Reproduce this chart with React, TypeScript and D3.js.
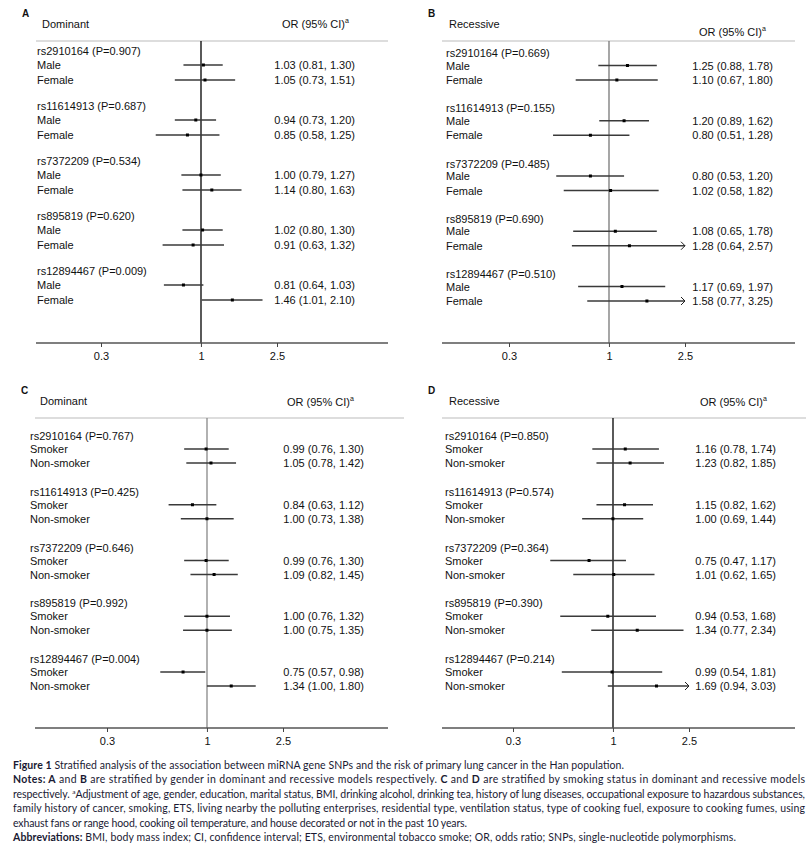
import { useRef, useEffect } from "react";
import * as d3 from "d3";

// SNPs shown in every panel
const snps = ["rs2910164", "rs11614913", "rs7372209", "rs895819", "rs12894467"];
const genderGroups = ["Male", "Female"];
const smokeGroups = ["Smoker", "Non-smoker"];
const tickValues = [0.3, 1, 2.5];

// P values for each SNP
const pDomGender = ["0.907", "0.687", "0.534", "0.620", "0.009"];
const pRecGender = ["0.669", "0.155", "0.485", "0.690", "0.510"];
const pDomSmoke = ["0.767", "0.425", "0.646", "0.992", "0.004"];
const pRecSmoke = ["0.850", "0.574", "0.364", "0.390", "0.214"];

// [OR, lower, upper] per SNP, for the two subgroups
const orDomGender = [
  [[1.03, 0.81, 1.3], [1.05, 0.73, 1.51]],
  [[0.94, 0.73, 1.2], [0.85, 0.58, 1.25]],
  [[1.0, 0.79, 1.27], [1.14, 0.8, 1.63]],
  [[1.02, 0.8, 1.3], [0.91, 0.63, 1.32]],
  [[0.81, 0.64, 1.03], [1.46, 1.01, 2.1]],
];
const orRecGender = [
  [[1.25, 0.88, 1.78], [1.1, 0.67, 1.8]],
  [[1.2, 0.89, 1.62], [0.8, 0.51, 1.28]],
  [[0.8, 0.53, 1.2], [1.02, 0.58, 1.82]],
  [[1.08, 0.65, 1.78], [1.28, 0.64, 2.57]],
  [[1.17, 0.69, 1.97], [1.58, 0.77, 3.25]],
];
const orDomSmoke = [
  [[0.99, 0.76, 1.3], [1.05, 0.78, 1.42]],
  [[0.84, 0.63, 1.12], [1.0, 0.73, 1.38]],
  [[0.99, 0.76, 1.3], [1.09, 0.82, 1.45]],
  [[1.0, 0.76, 1.32], [1.0, 0.75, 1.35]],
  [[0.75, 0.57, 0.98], [1.34, 1.0, 1.8]],
];
const orRecSmoke = [
  [[1.16, 0.78, 1.74], [1.23, 0.82, 1.85]],
  [[1.15, 0.82, 1.62], [1.0, 0.69, 1.44]],
  [[0.75, 0.47, 1.17], [1.01, 0.62, 1.65]],
  [[0.94, 0.53, 1.68], [1.34, 0.77, 2.34]],
  [[0.99, 0.54, 1.81], [1.69, 0.94, 3.03]],
];

const FONT = "'Liberation Sans', Arial, sans-serif";
const CAP_FONT = "Lato, 'Open Sans', sans-serif";

type PanelProps = {
  letter: string;
  model: string;
  groups: string[];
  pvals: string[];
  values: number[][][];
  left: number;
  right: number;
  sepRight: number;
  refX: number;
  top: number; // separator y
  axisY: number;
  groupRange: [number, number];
  rowOffsets: number[];
  labelX: number;
  ciX: number;
  orX: number;
  orY: number;
  modelX: number;
  refColor: string;
};

const fmt = (v: number) => v.toFixed(2);

const Panel = (p: PanelProps) => {
  const axisRef = useRef<SVGGElement>(null);
  const x = d3.scaleLog().domain([0.3, 2.5]).range([p.refX - 100, p.refX + 76]);
  const gy = d3.scalePoint().domain(snps).range(p.groupRange);
  const cap = 2.5;

  useEffect(() => {
    if (!axisRef.current) return;
    const g = d3.select(axisRef.current);
    g.selectAll("*").remove();
    g.call(
      d3
        .axisBottom(x)
        .tickValues(tickValues)
        .tickSize(4)
        .tickFormat((d) => String(d))
    );
    g.select(".domain").remove();
    g.selectAll(".tick line").attr("stroke", "#444").attr("stroke-width", 1);
    g.selectAll(".tick text")
      .attr("font-family", FONT)
      .attr("font-size", 11)
      .attr("fill", "#111")
      .attr("y", 9);
  }, []);

  return (
    <g>
      <text x={p.left - 14} y={p.top - 24} fontFamily={FONT} fontWeight="bold" fontSize={10} fill="#111">
        {p.letter}
      </text>
      <text x={p.modelX} y={p.top - 13} fontFamily={FONT} fontSize={11} fill="#111">
        {p.model}
      </text>
      <text x={p.orX} y={p.orY} fontFamily={FONT} fontSize={11} fill="#111">
        OR (95% CI)
        <tspan fontSize={7} dy={-5}>a</tspan>
      </text>
      <line x1={p.left} x2={p.sepRight} y1={p.top} y2={p.top} stroke="#bbb" strokeWidth={1.2} />
      <line x1={p.refX} x2={p.refX} y1={p.top} y2={p.axisY} stroke={p.refColor} strokeWidth={1.3} />
      <line x1={p.left} x2={p.right} y1={p.axisY} y2={p.axisY} stroke="#555" strokeWidth={1.4} />
      <g ref={axisRef} transform={`translate(0,${p.axisY})`} />
      {snps.map((snp, i) => {
        const y0 = gy(snp)!;
        return (
          <g key={snp}>
            <text x={p.labelX} y={y0} dominantBaseline="central" fontFamily={FONT} fontSize={11} fill="#111">
              {`${snp} (P=${p.pvals[i]})`}
            </text>
            {p.groups.map((grp, j) => {
              const [or, lo, hi] = p.values[i][j];
              const y = y0 + p.rowOffsets[j];
              const clipped = hi > cap;
              const xr = x(clipped ? cap : hi);
              return (
                <g key={grp}>
                  <text x={p.labelX} y={y} dominantBaseline="central" fontFamily={FONT} fontSize={11} fill="#111">
                    {grp}
                  </text>
                  <line x1={x(lo)} x2={xr} y1={y} y2={y} stroke="#3a3a3a" strokeWidth={1.3} />
                  {clipped && (
                    <path
                      d={`M${xr - 4},${y - 4}L${xr},${y}L${xr - 4},${y + 4}`}
                      fill="none"
                      stroke="#222"
                      strokeWidth={1}
                    />
                  )}
                  <rect x={x(or) - 1.5} y={y - 1.5} width={3} height={3} fill="#000" />
                  <text
                    x={p.ciX}
                    y={y}
                    textAnchor="end"
                    dominantBaseline="central"
                    fontFamily={FONT}
                    fontSize={11}
                    fill="#111"
                  >
                    {`${fmt(or)} (${fmt(lo)}, ${fmt(hi)})`}
                  </text>
                </g>
              );
            })}
          </g>
        );
      })}
    </g>
  );
};

const Caption = () => {
  const x0 = 13;
  const lines = [
    { y: 769, w: 611, parts: [["Figure 1", true], [" Stratified analysis of the association between miRNA gene SNPs and the risk of primary lung cancer in the Han population.", false]] },
    {
      y: 783,
      w: 792,
      parts: [
        ["Notes: A", true], [" and ", false], ["B", true],
        [" are stratified by gender in dominant and recessive models respectively. ", false],
        ["C", true], [" and ", false], ["D", true],
        [" are stratified by smoking status in dominant and recessive models", false],
      ],
    },
    {
      y: 797.5,
      w: 792,
      parts: [
        ["respectively. ", false],
        ["a", "sup"],
        ["Adjustment of age, gender, education, marital status, BMI, drinking alcohol, drinking tea, history of lung diseases, occupational exposure to hazardous substances,", false],
      ],
    },
    {
      y: 812,
      w: 792,
      parts: [["family history of cancer, smoking, ETS, living nearby the polluting enterprises, residential type, ventilation status, type of cooking fuel, exposure to cooking fumes, using", false]],
    },
    { y: 826.5, w: 454, parts: [["exhaust fans or range hood, cooking oil temperature, and house decorated or not in the past 10 years.", false]] },
    {
      y: 841,
      w: 723,
      parts: [["Abbreviations:", true], [" BMI, body mass index; CI, confidence interval; ETS, environmental tobacco smoke; OR, odds ratio; SNPs, single-nucleotide polymorphisms.", false]],
    },
  ];
  return (
    <g fontFamily={CAP_FONT} fontSize={10.5} fill="#1a1a33">
      {lines.map((l, i) => (
        <text key={i} x={x0} y={l.y} textLength={l.w} lengthAdjust="spacing">
          {l.parts.map(([t, b], k) =>
            b === "sup" ? (
              <tspan key={k} fontSize={6.5} dy={-4}>
                {t as string}
              </tspan>
            ) : (
              <tspan key={k} fontWeight={b ? "bold" : "normal"} dy={k > 0 && l.parts[k - 1][1] === "sup" ? 4 : 0}>
                {t as string}
              </tspan>
            )
          )}
        </text>
      ))}
    </g>
  );
};

const App = () => {
  return (
    <svg
      width={812}
      height={849}
      style={{ position: "absolute", left: 0, top: 0, background: "#fff" }}
    >
      <rect width={812} height={849} fill="#fff" />
      <Panel
        letter="A" model="Dominant" groups={genderGroups} pvals={pDomGender} values={orDomGender}
        left={36} right={388} sepRight={388} refX={201} top={41} axisY={343}
        groupRange={[51, 271]} rowOffsets={[14, 29]} labelX={37} ciX={355}
        orX={282} orY={28} modelX={42} refColor="#000"
      />
      <Panel
        letter="B" model="Recessive" groups={genderGroups} pvals={pRecGender} values={orRecGender}
        left={442} right={795} sepRight={795} refX={609} top={41} axisY={343}
        groupRange={[53, 274]} rowOffsets={[12.5, 27]} labelX={446} ciX={773}
        orX={699} orY={36} modelX={449} refColor="#777"
      />
      <Panel
        letter="C" model="Dominant" groups={smokeGroups} pvals={pDomSmoke} values={orDomSmoke}
        left={35} right={388} sepRight={404} refX={207} top={418} axisY={728}
        groupRange={[436, 659]} rowOffsets={[13, 27]} labelX={30} ciX={364}
        orX={287} orY={406} modelX={40} refColor="#888"
      />
      <Panel
        letter="D" model="Recessive" groups={smokeGroups} pvals={pRecSmoke} values={orRecSmoke}
        left={442} right={795} sepRight={806} refX={613} top={418} axisY={728}
        groupRange={[436, 659]} rowOffsets={[13, 27]} labelX={445} ciX={776}
        orX={700} orY={406} modelX={449} refColor="#000"
      />
      <Caption />
    </svg>
  );
};

export default App;
